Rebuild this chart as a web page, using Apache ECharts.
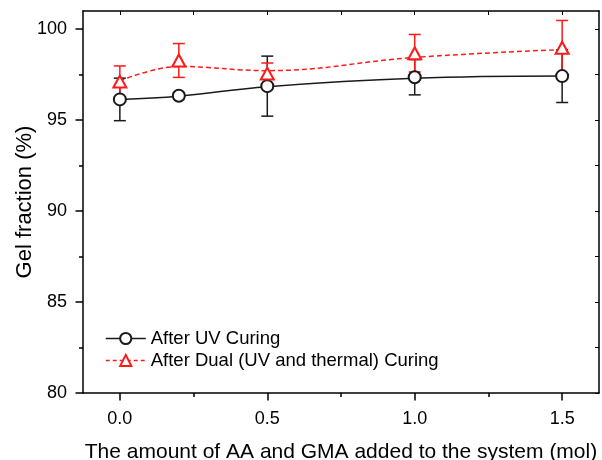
<!DOCTYPE html>
<html>
<head>
<meta charset="utf-8">
<script src="https://cdn.jsdelivr.net/npm/echarts@6/dist/echarts.min.js"></script>
<style>
  html, body { margin: 0; padding: 0; background: #fff; }
  #chart { width: 602px; height: 460px; }
</style>
</head>
<body>
<div id="chart"></div>
<script>
// amount of AA and GMA (mol)
const xValues = [0, 0.2, 0.5, 1.0, 1.5]
// gel fraction means and errors
const uvMean = [96.14, 96.34, 96.87, 97.36, 97.42]
const uvErr = [1.17, 0.17, 1.65, 0.97, 1.45]
const dualMean = [97.12, 98.28, 97.56, 98.68, 98.98]
const dualErr = [0.86, 0.93, 0.58, 1.03, 1.5]
// smoothed curves drawn through the points
const uvCurve = [96.14, 96.32, 96.84, 97.3, 97.42]
const dualCurve = [97.16, 97.95, 97.72, 98.45, 98.88]

const xMajor = [0, 0.5, 1.0, 1.5]
const xMinor = [0.25, 0.75, 1.25]
const yMajor = [80, 85, 90, 95, 100]
const yMinor = [82.5, 87.5, 92.5, 97.5]

const font = "Liberation Sans"
const red = "#ff1a1a"
const black = "#1a1a1a"

const pairs = (ys) => xValues.map((x, i) => [x, ys[i]])
const errData = (m, e) => xValues.map((x, i) => [x, m[i] - e[i], m[i] + e[i]])

const errorBars = (color) => (params, api) => {
  const x = api.value(0)
  const top = api.coord([x, api.value(2)])
  const bot = api.coord([x, api.value(1)])
  const w = 6
  const style = {stroke: color, lineWidth: 1.5}
  return {
    type: "group",
    children: [
      {type: "line", shape: {x1: top[0], y1: top[1], x2: bot[0], y2: bot[1]}, style},
      {type: "line", shape: {x1: top[0] - w, y1: top[1], x2: top[0] + w, y2: top[1]}, style},
      {type: "line", shape: {x1: bot[0] - w, y1: bot[1], x2: bot[0] + w, y2: bot[1]}, style}
    ]
  }
}

const chart = echarts.init(document.getElementById("chart"))
const axisLine = {show: true, onZero: false, lineStyle: {color: "#000", width: 1.5}}
const noLine = {show: false, onZero: false}
const xRange = {type: "value", min: -0.125, max: 1.625}
const yRange = {type: "value", min: 80, max: 101}

chart.setOption({
  animation: false,
  grid: {left: 83, right: 3, top: 11, bottom: 67, containLabel: false, outerBoundsMode: "none"},
  legend: {
    orient: "vertical",
    left: 100,
    top: 324,
    itemWidth: 40,
    itemHeight: 14,
    itemGap: 3,
    textStyle: {fontFamily: font, fontSize: 18.5, lineHeight: 18, color: "#000"},
    data: [
      {name: "After UV Curing", lineStyle: {opacity: 1, color: black, width: 1.5}},
      {name: "After Dual (UV and thermal) Curing", lineStyle: {opacity: 1, color: red, width: 1.5, type: [4, 3]}}
    ]
  },
  xAxis: [
    Object.assign({}, xRange, {
      position: "bottom",
      axisLine,
      splitLine: {show: false},
      axisTick: {show: true, customValues: xMajor, length: 7.5, lineStyle: {color: "#000", width: 1.5}},
      axisLabel: {customValues: xMajor, formatter: (v) => v.toFixed(1), margin: 17,
        fontFamily: font, fontSize: 18, color: "#000"},
      name: "The amount of AA and GMA added to the system (mol)",
      nameLocation: "middle",
      nameMoveOverlap: false,
      nameGap: 49,
      nameTextStyle: {fontFamily: font, fontSize: 21, color: "#000"}
    }),
    Object.assign({}, xRange, {
      position: "bottom",
      axisLine: noLine,
      splitLine: {show: false},
      axisTick: {show: true, customValues: xMinor, length: 4, lineStyle: {color: "#000", width: 1.5}},
      axisLabel: {show: false}
    }),
    Object.assign({}, xRange, {
      position: "top",
      axisLine,
      splitLine: {show: false},
      axisTick: {show: true, inside: true, customValues: xMajor.concat(xMinor), length: 4, lineStyle: {color: "#000", width: 1}},
      axisLabel: {show: false}
    })
  ],
  yAxis: [
    Object.assign({}, yRange, {
      position: "left",
      axisLine,
      splitLine: {show: false},
      axisTick: {show: true, customValues: yMajor, length: 7.5, lineStyle: {color: "#000", width: 1.5}},
      axisLabel: {customValues: yMajor, margin: 16, fontFamily: font, fontSize: 18, color: "#000"},
      name: "Gel fraction (%)",
      nameLocation: "middle",
      nameMoveOverlap: false,
      nameGap: 47,
      nameTextStyle: {fontFamily: font, fontSize: 22, color: "#000"}
    }),
    Object.assign({}, yRange, {
      position: "left",
      axisLine: noLine,
      splitLine: {show: false},
      axisTick: {show: true, customValues: yMinor, length: 4, lineStyle: {color: "#000", width: 1.5}},
      axisLabel: {show: false}
    }),
    Object.assign({}, yRange, {
      position: "right",
      axisLine,
      splitLine: {show: false},
      axisTick: {show: true, inside: true, customValues: yMajor.concat(yMinor), length: 4, lineStyle: {color: "#000", width: 1}},
      axisLabel: {show: false}
    })
  ],
  series: [
    {
      name: "uv curve",
      type: "line",
      smooth: 0.4,
      showSymbol: false,
      data: pairs(uvCurve),
      lineStyle: {color: black, width: 1.5},
      z: 2
    },
    {
      name: "dual curve",
      type: "line",
      smooth: 0.4,
      showSymbol: false,
      data: pairs(dualCurve),
      lineStyle: {color: red, width: 1.5, type: [5, 3]},
      z: 2
    },
    {
      type: "custom",
      renderItem: errorBars(black),
      encode: {x: 0, y: [1, 2]},
      data: errData(uvMean, uvErr),
      z: 3
    },
    {
      type: "custom",
      renderItem: errorBars(red),
      encode: {x: 0, y: [1, 2]},
      data: errData(dualMean, dualErr),
      z: 3
    },
    {
      name: "After UV Curing",
      type: "line",
      data: pairs(uvMean),
      symbol: "emptyCircle",
      symbolSize: 12,
      itemStyle: {color: black, borderWidth: 1.5},
      lineStyle: {opacity: 0},
      z: 4
    },
    {
      name: "After Dual (UV and thermal) Curing",
      type: "line",
      data: pairs(dualMean),
      symbol: "emptyTriangle",
      symbolSize: [13, 12],
      itemStyle: {color: red, borderWidth: 1.5},
      lineStyle: {opacity: 0},
      z: 4
    }
  ]
})
</script>
</body>
</html>
